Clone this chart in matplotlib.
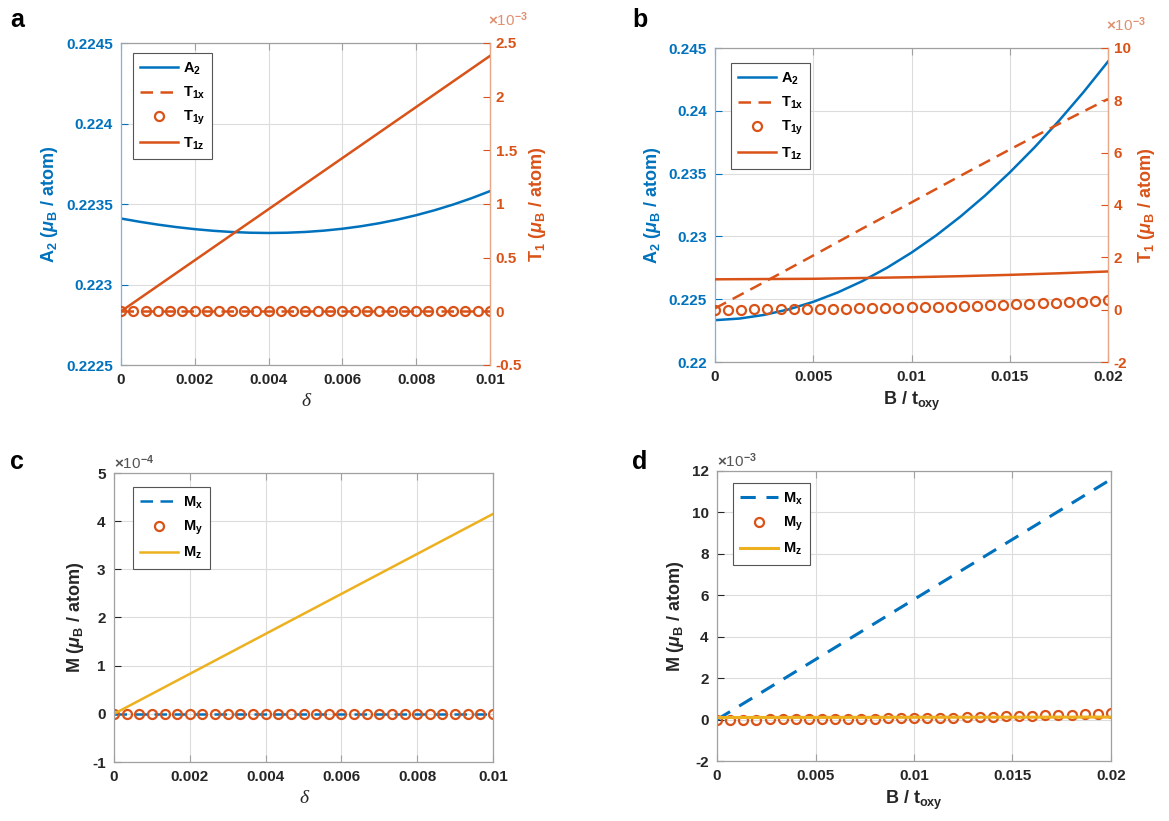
import numpy as np
import matplotlib
matplotlib.use('Agg')
import matplotlib.pyplot as plt
from matplotlib.ticker import FuncFormatter

plt.rcParams['font.family'] = ['Liberation Sans', 'DejaVu Sans']
plt.rcParams['font.weight'] = 'bold'
plt.rcParams['mathtext.fontset'] = 'custom'
plt.rcParams['mathtext.rm'] = 'Liberation Sans:bold'
plt.rcParams['mathtext.bf'] = 'Liberation Sans:bold'
plt.rcParams['mathtext.it'] = 'Liberation Sans:italic'

BLUE = '#0072BD'
ORANGE = '#D95319'
YELLOW = '#EDB120'
FRAME = '#a0a0a0'
TXT = '#262626'

############################################################################
# panel a : delta sweep
delta_line = [0.0, 0.0005, 0.001, 0.0015, 0.002, 0.0025, 0.003, 0.0035, 0.004, 0.0045,
              0.005, 0.0055, 0.006, 0.0065, 0.007, 0.0075, 0.008, 0.0085, 0.009,
              0.0095, 0.01]
A2_a = [0.2234099, 0.2233898, 0.2233720, 0.2233566, 0.2233438, 0.2233336, 0.2233261,
        0.2233216, 0.2233200, 0.2233216, 0.2233264, 0.2233346, 0.2233463, 0.2233616,
        0.2233807, 0.2234036, 0.2234304, 0.2234614, 0.2234965, 0.2235360, 0.2235799]
delta_ends = [0.0, 0.01]
T1x_a = [0.0, 0.0]          # x1e-3
T1z_a = [0.0, 2.38]         # x1e-3
delta_pts = np.linspace(0, 0.01, 31)
T1y_a = [0.0] * 31          # x1e-3

# panel b : B / t_oxy sweep
B_fine = [0.0, 0.00125, 0.0025, 0.00375, 0.005, 0.00625, 0.0075, 0.00875, 0.01,
          0.01125, 0.0125, 0.01375, 0.015, 0.01625, 0.0175, 0.01875, 0.02]
A2_b = [0.22333, 0.22346, 0.22375, 0.22419, 0.22479, 0.22554, 0.22644, 0.22750,
        0.22871, 0.23007, 0.23159, 0.23326, 0.23509, 0.23707, 0.23920, 0.24148, 0.24392]
B_line = [0.0, 0.0025, 0.005, 0.0075, 0.01, 0.0125, 0.015, 0.0175, 0.02]
T1x_b = [0.05, 1.05, 2.07, 3.10, 4.10, 5.12, 6.12, 7.10, 8.05]      # x1e-3
T1z_b = [1.16, 1.17, 1.18, 1.21, 1.24, 1.28, 1.33, 1.39, 1.46]      # x1e-3
B_pts = np.linspace(0, 0.02, 31)
T1y_b = [0.0, 0.0, 0.0, 0.01, 0.01, 0.01, 0.02, 0.02, 0.03, 0.04, 0.04, 0.05, 0.06,
         0.07, 0.08, 0.09, 0.10, 0.11, 0.12, 0.14, 0.15, 0.17, 0.18, 0.20, 0.22,
         0.24, 0.26, 0.28, 0.30, 0.33, 0.36]                          # x1e-3

# panel c : magnetisation vs delta (x1e-4)
Mx_c = [0.0, 0.0]
Mz_c = [0.0, 4.15]
My_c = [0.0] * 31

# panel d : magnetisation vs B / t_oxy (x1e-3)
B_ends = [0.0, 0.02]
Mx_d = [0.0, 11.6]
Mz_d = [0.10, 0.12]
My_d = [0.0, 0.0, 0.0, 0.0, 0.01, 0.01, 0.01, 0.02, 0.02, 0.03, 0.03, 0.04, 0.05,
        0.06, 0.06, 0.07, 0.08, 0.09, 0.10, 0.12, 0.13, 0.14, 0.16, 0.17, 0.19,
        0.20, 0.22, 0.24, 0.26, 0.28, 0.30]
############################################################################

fmt = FuncFormatter(lambda v, p: '%g' % round(v, 6))
DASH = (0, (5, 3))


def habille(ax, xt, yt, yl, ycol=TXT):
    ax.set_xlim(xt[0], xt[-1])
    ax.set_xticks(xt)
    ax.set_ylim(yl[0], yl[1])
    ax.set_yticks(yt)
    ax.xaxis.set_major_formatter(fmt)
    ax.yaxis.set_major_formatter(fmt)
    ax.grid(True, color='#dcdcdc', linewidth=0.8)
    ax.set_axisbelow(True)
    ax.tick_params(direction='in', length=5, width=0.8, top=True, labelsize=11,
                   colors=TXT, pad=6)
    ax.tick_params(axis='y', colors=ycol, labelcolor=ycol)
    ax.tick_params(axis='x', colors=FRAME, labelcolor=TXT)
    for s in ax.spines.values():
        s.set_color(FRAME)
        s.set_linewidth(0.9)


def droite(ax2, yt, yl):
    ax2.set_ylim(yl)
    ax2.set_yticks(yt)
    ax2.yaxis.set_major_formatter(fmt)
    ax2.tick_params(direction='in', length=5, width=0.8, labelsize=11,
                    colors=ORANGE, labelcolor=ORANGE, pad=4)
    for s in ax2.spines.values():
        s.set_visible(False)
    ax2.spines['right'].set_visible(True)
    ax2.spines['right'].set_color('#e8a888')


def legende(ax, handles, labels, fx, fy):
    leg = ax.legend(handles, labels, loc='upper left', bbox_to_anchor=(fx, fy),
                    borderaxespad=0, fancybox=False, framealpha=1,
                    edgecolor='#555555', fontsize=10.5, handlelength=2.6,
                    labelspacing=0.55, handletextpad=0.3, borderpad=0.5)
    leg.get_frame().set_linewidth(0.8)
    return leg


W, H = 1169, 821
fig = plt.figure(figsize=(W / 100, H / 100), dpi=100)


def boite(x0, y0, x1, y1):
    return [x0 / W, 1 - y1 / H, (x1 - x0) / W, (y1 - y0) / H]


mklw = dict(marker='o', markersize=6.5, markerfacecolor='none', markeredgewidth=1.6,
            linestyle='none')
ylab_kw = dict(fontsize=13, fontweight='bold')
xlab_kw = dict(fontsize=13, fontweight='bold', color=TXT)
delta_kw = dict(fontsize=14, fontfamily='Liberation Serif', fontstyle='italic',
                fontweight='normal', color=TXT)
expo_kw = dict(ha='left', va='bottom', fontsize=11, fontweight='normal')

# ---------------- a
ax = fig.add_axes(boite(121, 43, 490, 365))
habille(ax, [0, 0.002, 0.004, 0.006, 0.008, 0.01],
        [0.2225, 0.223, 0.2235, 0.224, 0.2245], (0.2225, 0.2245), BLUE)
ax.spines['left'].set_color('#7fb3d9')
h1, = ax.plot(delta_line, A2_a, color=BLUE, lw=1.8)
ax.set_ylabel(r'A$_\mathrm{2}$ ($\mu_\mathrm{B}$ / atom)', color=BLUE, **ylab_kw)
ax.set_xlabel('δ', **delta_kw)
ax2 = ax.twinx()
droite(ax2, [-0.5, 0, 0.5, 1, 1.5, 2, 2.5], (-0.5, 2.5))
h2, = ax2.plot(delta_ends, T1x_a, color=ORANGE, lw=1.8, linestyle=DASH)
h3, = ax2.plot(delta_pts, T1y_a, color=ORANGE, **mklw)
h4, = ax2.plot(delta_ends, T1z_a, color=ORANGE, lw=1.8)
ax2.set_ylabel(r'T$_\mathrm{1}$ ($\mu_\mathrm{B}$ / atom)', color=ORANGE, **ylab_kw)
ax2.text(0.995, 1 + 14 / 322, r'$\times$10$^{-3}$', transform=ax2.transAxes,
         color='#e09070', **expo_kw)
legende(ax2, [h1, h2, h3, h4],
        [r'A$_\mathrm{2}$', r'T$_\mathrm{1x}$', r'T$_\mathrm{1y}$', r'T$_\mathrm{1z}$'],
        12 / 369, 1 - 10 / 322)
fig.text(10 / W, 1 - 20 / H, 'a', fontsize=18, fontweight='bold', va='center')

# ---------------- b
ax = fig.add_axes(boite(715, 48, 1108, 362))
habille(ax, [0, 0.005, 0.01, 0.015, 0.02],
        [0.22, 0.225, 0.23, 0.235, 0.24, 0.245], (0.22, 0.245), BLUE)
ax.spines['left'].set_color('#7fb3d9')
h1, = ax.plot(B_fine, A2_b, color=BLUE, lw=1.8)
ax.set_ylabel(r'A$_\mathrm{2}$ ($\mu_\mathrm{B}$ / atom)', color=BLUE, **ylab_kw)
ax.set_xlabel(r'B / t$_\mathrm{oxy}$', **xlab_kw)
ax2 = ax.twinx()
droite(ax2, [-2, 0, 2, 4, 6, 8, 10], (-2, 10))
h2, = ax2.plot(B_line, T1x_b, color=ORANGE, lw=1.8, linestyle=DASH)
h3, = ax2.plot(B_pts, T1y_b, color=ORANGE, **mklw)
h4, = ax2.plot(B_line, T1z_b, color=ORANGE, lw=1.8)
ax2.set_ylabel(r'T$_\mathrm{1}$ ($\mu_\mathrm{B}$ / atom)', color=ORANGE, **ylab_kw)
ax2.text(0.995, 1 + 14 / 314, r'$\times$10$^{-3}$', transform=ax2.transAxes,
         color='#e09070', **expo_kw)
legende(ax2, [h1, h2, h3, h4],
        [r'A$_\mathrm{2}$', r'T$_\mathrm{1x}$', r'T$_\mathrm{1y}$', r'T$_\mathrm{1z}$'],
        16 / 393, 1 - 15 / 314)
fig.text(632 / W, 1 - 20 / H, 'b', fontsize=18, fontweight='bold', va='center')

# ---------------- c
ax = fig.add_axes(boite(114, 473, 493, 762))
habille(ax, [0, 0.002, 0.004, 0.006, 0.008, 0.01],
        [-1, 0, 1, 2, 3, 4, 5], (-1, 5))
h1, = ax.plot(delta_ends, Mx_c, color=BLUE, lw=1.8, linestyle=DASH)
h2, = ax.plot(delta_pts, My_c, color=ORANGE, **mklw)
h3, = ax.plot(delta_ends, Mz_c, color=YELLOW, lw=1.8)
ax.set_ylabel(r'M ($\mu_\mathrm{B}$ / atom)', color=TXT, **ylab_kw)
ax.set_xlabel('δ', **delta_kw)
ax.text(0.0, 1.005, r'$\times$10$^{-4}$', transform=ax.transAxes,
        color='#555555', **expo_kw)
legende(ax, [h1, h2, h3],
        [r'M$_\mathrm{x}$', r'M$_\mathrm{y}$', r'M$_\mathrm{z}$'],
        19 / 379, 1 - 14 / 289)
fig.text(10 / W, 1 - 462 / H, 'c', fontsize=18, fontweight='bold', va='center')

# ---------------- d
ax = fig.add_axes(boite(717, 471, 1111, 761))
habille(ax, [0, 0.005, 0.01, 0.015, 0.02],
        [-2, 0, 2, 4, 6, 8, 10, 12], (-2, 12))
h1, = ax.plot(B_ends, Mx_d, color=BLUE, lw=2.2, linestyle=(0, (5, 3.5)))
h2, = ax.plot(B_pts, My_d, color=ORANGE, **mklw)
h3, = ax.plot(B_ends, Mz_d, color=YELLOW, lw=2.2)
ax.set_ylabel(r'M ($\mu_\mathrm{B}$ / atom)', color=TXT, **ylab_kw)
ax.set_xlabel(r'B / t$_\mathrm{oxy}$', **xlab_kw)
ax.text(0.0, 1.005, r'$\times$10$^{-3}$', transform=ax.transAxes,
        color='#555555', **expo_kw)
legende(ax, [h1, h2, h3],
        [r'M$_\mathrm{x}$', r'M$_\mathrm{y}$', r'M$_\mathrm{z}$'],
        16 / 394, 1 - 12 / 290)
fig.text(632 / W, 1 - 462 / H, 'd', fontsize=18, fontweight='bold', va='center')

fig.savefig('out.png', dpi=100)
